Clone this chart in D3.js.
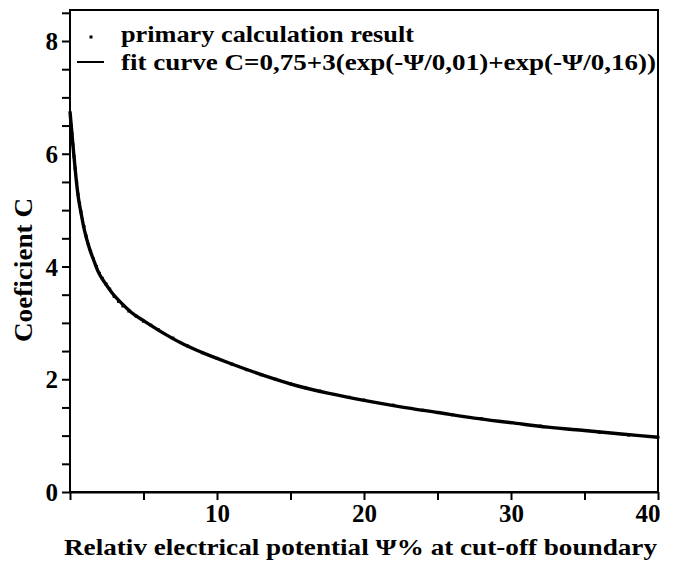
<!DOCTYPE html>
<html>
<head>
<meta charset="utf-8">
<script src="https://cdn.jsdelivr.net/npm/d3@7"></script>
<style>
  html, body { margin: 0; padding: 0; background: #fff; }
  svg { display: block; }
  text { font-family: "Liberation Serif", "Tinos", "Times New Roman", serif; font-weight: bold; fill: #000; }
</style>
</head>
<body>
<svg id="chart" width="673" height="567"></svg>
<script>
// Primary calculation result (Ψ %, C)
const primaryPsi = [0.03, 0.08, 0.13, 0.2, 0.27, 0.35, 0.45, 0.55, 0.65, 0.75, 0.85, 0.95, 1.1, 1.25, 1.4, 1.6, 1.8, 2.0, 2.2, 2.45, 2.7, 3.0, 3.3, 3.6, 4.0, 4.5, 5.0, 5.5, 6.0, 7, 8, 9, 10, 11, 12, 13, 14, 15, 16, 17, 18, 19, 20, 22, 24, 26, 28, 30, 32, 34, 36, 38, 40];
const primaryC   = [6.66, 6.5, 6.36, 6.16, 5.95, 5.74, 5.5, 5.28, 5.12, 4.97, 4.83, 4.71, 4.54, 4.39, 4.27, 4.13, 4.0, 3.88, 3.79, 3.69, 3.6, 3.47, 3.38, 3.3, 3.21, 3.12, 3.03, 2.96, 2.88, 2.73, 2.59, 2.47, 2.37, 2.27, 2.17, 2.08, 2.0, 1.92, 1.85, 1.79, 1.73, 1.68, 1.63, 1.54, 1.45, 1.37, 1.3, 1.23, 1.17, 1.11, 1.06, 1.01, 0.97];

// Fit curve C = 0,75 + 3(exp(-Ψ/0,01) + exp(-Ψ/0,16))
const fitPsi = [0, 0.1, 0.23, 0.4, 0.57, 0.75, 0.91, 1.1, 1.36, 1.6, 1.93, 2.4, 2.84, 3.5, 4.2, 5.0, 6.47, 7.5, 8.74, 10, 11, 13.27, 15.5, 17.8, 20.1, 22.5, 25, 27.5, 30, 32.5, 35, 37.5, 40];
const fitC   = [6.75, 6.45, 6.07, 5.6, 5.22, 4.95, 4.73, 4.52, 4.29, 4.12, 3.9, 3.7, 3.54, 3.35, 3.18, 3.04, 2.8, 2.65, 2.5, 2.37, 2.27, 2.06, 1.88, 1.74, 1.62, 1.51, 1.41, 1.31, 1.23, 1.15, 1.09, 1.03, 0.97];

const xTicks = [0, 5, 10, 15, 20, 25, 30, 35, 40];
const xTickLabels = [10, 20, 30, 40];
const yTicks = d3.range(0, 8.51, 0.5);
const yTickLabels = [0, 2, 4, 6, 8];

const legendLabels = ["primary calculation result", "fit curve C=0,75+3(exp(-\u03A8/0,01)+exp(-\u03A8/0,16))"];
const xTitle = "Relativ electrical potential \u03A8%  at cut-off boundary";
const yTitle = "Coeficient C";

const svg = d3.select("#chart");
const plot = { left: 70, right: 658, bottom: 492, top: 10 };

const x = d3.scaleLinear().domain([0, 40]).range([plot.left, plot.right]);
const y = d3.scaleLinear().domain([0, 8]).range([plot.bottom, 41]);

// frame
svg.append("rect")
  .attr("x", plot.left).attr("y", plot.top)
  .attr("width", plot.right - plot.left).attr("height", plot.bottom - plot.top)
  .attr("fill", "none").attr("stroke", "#000").attr("stroke-width", 2);

// axes
const xAxis = d3.axisBottom(x)
  .tickValues(xTicks)
  .tickSize(8).tickSizeOuter(0)
  .tickFormat(d => xTickLabels.includes(d) ? d : "");
const gx = svg.append("g").attr("transform", `translate(0,${plot.bottom})`).call(xAxis);

const yAxis = d3.axisLeft(y)
  .tickValues(yTicks)
  .tickSize(8).tickSizeOuter(0)
  .tickFormat(d => yTickLabels.includes(d) ? d : "");
const gy = svg.append("g").attr("transform", `translate(${plot.left},0)`).call(yAxis);

[gx, gy].forEach(g => {
  g.attr("font-family", null);
  g.select(".domain").attr("stroke", "#000").attr("stroke-width", 2);
  g.selectAll(".tick line").attr("stroke", "#000").attr("stroke-width", 2);
  g.selectAll(".tick text")
    .attr("font-size", 25)
    .attr("fill", "#000");
});
gx.selectAll(".tick text").attr("y", 12).attr("dy", "0.71em");
gx.selectAll(".tick").filter(d => d === 40).select("text").attr("text-anchor", "end").attr("dx", 2);
gy.selectAll(".tick text").attr("x", -12).attr("dy", "0.34em");
gy.select(".domain").attr("d", `M0,${plot.bottom}V${plot.top}`);

// fit curve
const line = d3.line()
  .x((d, i) => x(fitPsi[i]))
  .y((d, i) => y(fitC[i]))
  .curve(d3.curveMonotoneX);
svg.append("path")
  .datum(fitC)
  .attr("d", line)
  .attr("fill", "none")
  .attr("stroke", "#000")
  .attr("stroke-width", 3.4)
  .attr("stroke-linejoin", "round");

// primary calculation points
svg.append("g").selectAll("rect")
  .data(primaryC)
  .join("rect")
  .attr("x", (d, i) => x(primaryPsi[i]) - 1.5)
  .attr("y", d => y(d) - 1.5)
  .attr("width", 3).attr("height", 3)
  .attr("fill", "#000");

// legend
const lg = svg.append("g");
lg.append("rect").attr("x", 89.5).attr("y", 35.5).attr("width", 3).attr("height", 3).attr("fill", "#000");
lg.append("line").attr("x1", 77).attr("x2", 104).attr("y1", 62).attr("y2", 62)
  .attr("stroke", "#000").attr("stroke-width", 2);
lg.append("text").attr("x", 121).attr("y", 42).attr("font-size", 23)
  .attr("textLength", 293).attr("lengthAdjust", "spacingAndGlyphs")
  .text(legendLabels[0]);
lg.append("text").attr("x", 121).attr("y", 70).attr("font-size", 23)
  .attr("textLength", 535).attr("lengthAdjust", "spacingAndGlyphs")
  .text(legendLabels[1]);

// axis titles
svg.append("text")
  .attr("x", 64).attr("y", 555)
  .attr("font-size", 24)
  .attr("textLength", 593).attr("lengthAdjust", "spacingAndGlyphs")
  .text(xTitle);

svg.append("text")
  .attr("transform", "translate(32,342) rotate(-90)")
  .attr("x", 0).attr("y", 0)
  .attr("font-size", 25)
  .attr("textLength", 144).attr("lengthAdjust", "spacingAndGlyphs")
  .text(yTitle);
</script>
</body>
</html>
